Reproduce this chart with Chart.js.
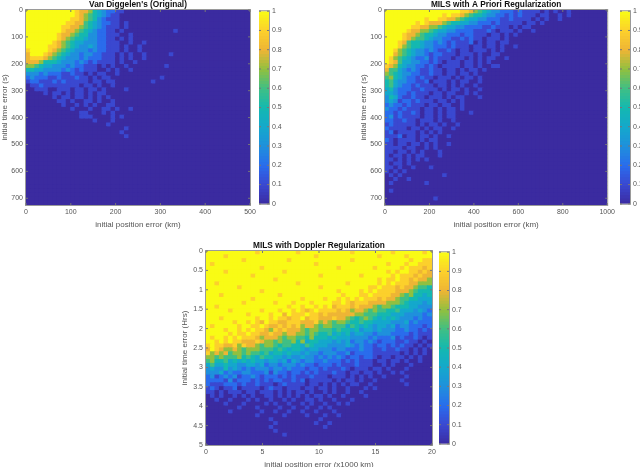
<!DOCTYPE html>
<html>
<head>
<meta charset="utf-8">
<script src="https://cdn.jsdelivr.net/npm/chart.js@4"></script>
<style>
    html, body { margin: 0; padding: 0; background: #fff; }
    body { width: 640px; height: 467px; position: relative; overflow: hidden; }
    canvas { position: absolute; }
</style>
</head>
<body>
<canvas id="heat1"></canvas><canvas id="bar1"></canvas>
<canvas id="heat2"></canvas><canvas id="bar2"></canvas>
<canvas id="heat3"></canvas><canvas id="bar3"></canvas>
<script>
// Cell values in tenths, one char per cell (a = 1.0), 50 columns by 50 rows.
// Rows are written from the top of the plot, missing cells at the end are 0.
const vanDiggelenRows = [
    "aaaaaaaaaaa98875432211", "aaaaaaaaaaa98765432110", "aaaaaaaaaa998765321110",
    "aaaaaaaaa99886543221101", "aaaaaaaa998876543211101", "aaaaaaaa98876543221101000000000001",
    "aaaaaaa98876553322111001", "aaaaaaa98765543322110101", "aaaaaa987654433322111001001",
    "aaaaa9987654334322111010010", "9aaaa987654333232211101001", "8aaa98765433233221110101001000001",
    "899987654333232221110101001", "8887555433323212111101001", "77654433323221110101001000000001",
    "5544333323212111001010010", "33323222112110101100100", "2322211211121101011000000000001",
    "12211121211111011011000000001", "01121111111101101001", "00111001110110110100001",
    "00001011010110101100", "00000010110110101010", "000000011010011010010", "00000000100101010011",
    "00000000001000100110100100", "00000000000011000101", "00000000000011100001010", "0000000000000001000100",
    "00000000000000000010", "0000000000000000000000100", "0000000000000000000001", "000000000000000000000010"
];
const aPrioriRows = [
    "aaaaaaaaaaaaaaaaa99876543322212111101010010", "aaaaaaaaaaaaa9a998765543322121211101100101",
    "aaaaaaaaa9aa9988765443322211211110101001", "aaaaaaa9a988876554433222121111101101",
    "aaaaaa9988776544332222112111010110", "aaaaa98877654433222211121011101001",
    "aaaa988765543322212211101101010", "aaaa98766543322112121101110100",
    "aaa9865543323212111201011011", "aaa976554332221211101101101001",
    "aa97654332321121011011101010", "aa8765433212211101110100110",
    "a976543223121110110101011001", "a986443322121011101101010",
    "98754332212101111011010011", "86643232112110110101101",
    "7654332211211011011010", "6754322121101110101101",
    "56433221120111010110010", "5643221211101101010010",
    "4532221121110101101001", "4432212111011011001010",
    "3542112110111010110001", "3431221211101101010",
    "232212111011011001", "3221211101101011010",
    "22121121011010110001", "2312111101101011",
    "2211211011101001", "121111101011010010",
    "2111101101011001", "1201111010101",
    "11120110110100100", "2101111010110",
    "110110110101001", "1111011001010",
    "1101101010001", "1011010110001",
    "1101010101", "10110100",
    "1101001000100", "1010100",
    "01010000000001", "0010010",
    "0100000001", "0", "01", "0", "000000000001"
];
const dopplerRows = [
    "aaaaaaaaaa a9aaaaaaaa 9aaaaaaaaa aa9aaaaaaa a9aaaaaa9a",
    "aaaa9aaaaa aaaaaaaaaa aaaa9aaaaa aaaaaaaa9a aaaa9aaaaa",
    "aaaaaaaa9a aaaaaaaa9a aaaaaaaaaa aa9aaaaaaa aaaaa9aa99",
    "a9aaaaaaaa aaaaaaaaaa aaaa9aaaaa aaaaaaaaaa 9aaa9aa999",
    "aaaaaaaaaa aa9aaaaaaa aaaaaaaaa9 aaaaaaa9aa aaa9a99989",
    "aaaa9aaaaa aaaaaaa9aa aaaaaaaaaa aaaaaaaaaa 9a9aa99898",
    "aaaaaaaaaa 9aaaaaaaaa aaaaa9aaaa aaaa9aaaaa a9a9998988",
    "aaaaaaaaaa aaaaa9aaaa aaaaaaaaaa aaaaaaaa9a 99a9989887",
    "aa9aaaaaaa aaaaaaaaaa 9aaaaaaaaa a9aaaaaa9a 9a99988777",
    "aaaaaaa9aa aaaaaaaaaa aaaaa9aaaa aaaaaa99a9 9989887665",
    "aaaaaaaaaa aa9aaaaaaa aaaaaaaaa9 aaaa9a9a99 9988876555",
    "aaa9aaaaaa aaaaaa9aaa aaaaaaaaaa 9aaa99a999 9887675545",
    "aaaaaaaaaa 9aaaaaaaaa a9aaaa9aa9 a9a9a99989 8876655444",
    "aaaaaaaa9a aaaaa9aaa9 aaa9aaaa99 a989998888 7776544434",
    "aa9aaaaaaa aaaaaaaa9a a9aa9a9a89 9989888767 7655544333",
    "aaaaa9aaaa aa9aaa9aa9 a989a99998 9878876766 5564443432",
    "aaaaaaaaa9 aaaa9aa8a9 99a9989888 8887766655 5444333323",
    "aaa9aaaaaa a9aa9a9989 9a89988898 8765676545 4543332322",
    "aaaaaa9aa9 a98a998899 9888978767 7655655444 4333423222",
    "a9aaaaa9aa 99a9889898 9788767766 6465454344 3423322212",
    "aaaa9aa9a9 a998798988 8767766656 5545344343 3322322121",
    "aaaaa9a99a 9988988788 7767655645 4534433233 3222212111",
    "a9aa9a9a99 9878887677 6657555454 4433332322 2312112101",
    "aa9a9a9988 8987767667 5745544434 3423323212 2211211010",
    "9a99889798 8767765665 5465444333 3432322122 1212110101",
    "8a98778767 7766656545 5434433323 3222322112 1121101010",
    "9787867767 6656455454 4343323332 2312222111 1110101010",
    "7767666756 5465544343 3433232323 2122122101 1011010100",
    "6755645454 5443443424 3233223222 1212111011 0110100100",
    "4644544334 4342332333 2322122212 1112111001 0100010000",
    "3433534323 2333233232 2212212111 2101110110 1000100000",
    "3334232233 2223132212 2121211121 1011011010 0101000000",
    "2312323122 3212221212 1112111011 1010101001 0000100000",
    "2222131222 1212122112 1201111101 0110100100 0001000000",
    "2111222121 1211101211 1101101010 1011001000 0000100000",
    "1210112011 1101211011 1011011010 0100010100 0000000000",
    "1101011101 1011101010 1101001010 0100100000 0000000000",
    "0101001010 1001101010 1010110100 1000010000 0000000000",
    "0010010001 0100100101 0011010010 0010000000 0000000000",
    "0000100010 0001010010 0101001001 0100000000 0000000000",
    "0000000100 0100001001 0010010100 0000000000 0000000000",
    "0000010000 0010010010 0100100010 0000000000 0000000000",
    "0000000000 0100000100 0010001001 0000000000 0000000000",
    "0000000000 0000100000 0000010000 0000000000 0000000000",
    "0000000000 0000010000 0000100100 0000000000 0000000000",
    "0000000000 0000100000 0000001000 0000000000 0000000000",
    "0000000000 0000010000 0000000000 0000000000 0000000000",
    "0000000000 0000000100 0000000000 0000000000 0000000000"
];

const xTicks1 = [0, 100, 200, 300, 400, 500];
const xTicks2 = [0, 200, 400, 600, 800, 1000];
const xTicks3 = [0, 5, 10, 15, 20];
const yTicksSec = [0, 100, 200, 300, 400, 500, 600, 700];
const yTicksHrs = [0, 0.5, 1, 1.5, 2, 2.5, 3, 3.5, 4, 4.5, 5];
const barTicks = [0, 0.1, 0.2, 0.3, 0.4, 0.5, 0.6, 0.7, 0.8, 0.9, 1];

const parula = ['#3b2ba0', '#3a48d0', '#2a6cec', '#1f90dc', '#14a8cc', '#14b8b0',
                '#3fbf85', '#90c040', '#eeb535', '#fcd02c', '#f9fb15'];

const FONT = '"Liberation Sans", Arial, sans-serif';
const TEXT_COLOR = '#555555';
const BOX_COLOR = '#9a9a9a';

// Colour for a value between 0 and 1
function colorFor(v) {
    const pos = Math.min(v, 1) * 10;
    const i = Math.min(Math.floor(pos), 9);
    const t = pos - i;
    const a = parseInt(parula[i].slice(1), 16);
    const b = parseInt(parula[i + 1].slice(1), 16);
    const mix = shift => Math.round(((a >> shift) & 255) * (1 - t) + ((b >> shift) & 255) * t);
    return `rgb(${mix(16)},${mix(8)},${mix(0)})`;
}

function buildCells(rows, xMax, yMax) {
    const cells = [];
    for (let r = 0; r < 50; r++) {
        const row = (rows[r] || '').replace(/ /g, '').padEnd(50, '0');
        for (let c = 0; c < 50; c++) {
            const v = row[c] === 'a' ? 1 : Number(row[c]) / 10;
            cells.push({ x: (c + 0.5) * xMax / 50, y: [r * yMax / 50, (r + 1) * yMax / 50], v: v });
        }
    }
    return cells;
}

// Box round the plot and the small ticks pointing inwards
const boxPlugin = {
    id: 'box',
    afterDraw(chart) {
        const ctx = chart.ctx;
        const a = chart.chartArea;
        ctx.save();
        ctx.strokeStyle = BOX_COLOR;
        ctx.lineWidth = 1;
        ctx.strokeRect(a.left - 0.5, a.top - 0.5, a.width + 1, a.height + 1);
        ctx.strokeStyle = '#777777';
        ctx.beginPath();
        Object.values(chart.scales).forEach(scale => {
            if (!scale.options.display) return;
            scale.ticks.forEach((t, i) => {
                const p = scale.getPixelForTick(i);
                if (scale.isHorizontal()) {
                    ctx.moveTo(p, a.bottom); ctx.lineTo(p, a.bottom - 2);
                    ctx.moveTo(p, a.top); ctx.lineTo(p, a.top + 2);
                } else {
                    ctx.moveTo(a.left, p); ctx.lineTo(a.left + 2, p);
                    ctx.moveTo(a.right, p); ctx.lineTo(a.right - 2, p);
                }
            });
        });
        ctx.stroke();
        ctx.restore();
    }
};

function place(canvas, left, top, width, height) {
    canvas.width = width;
    canvas.height = height;
    canvas.style.left = left + 'px';
    canvas.style.top = top + 'px';
    canvas.style.width = width + 'px';
    canvas.style.height = height + 'px';
}

function axisText(size) {
    return { family: FONT, size: size };
}

function renderHeat(id, box, rows, xMax, yMax, xTicks, yTicks, xLabel, yLabel, title) {
    const canvas = document.getElementById(id);
    place(canvas, box.left, box.top, 26 + box.plotWidth + 10, box.topPad + 10 + box.plotHeight + 25);
    new Chart(canvas, {
        type: 'bar',
        data: {
            datasets: [{
                data: buildCells(rows, xMax, yMax),
                backgroundColor: c => colorFor(c.raw.v),
                barPercentage: 1,
                categoryPercentage: 1,
                inflateAmount: 0.6,
                grouped: false
            }]
        },
        options: {
            responsive: false,
            animation: false,
            layout: { padding: { left: 0, right: 10, top: 0, bottom: 0 } },
            plugins: {
                legend: { display: false },
                tooltip: { enabled: false },
                title: {
                    display: true,
                    text: title,
                    color: '#111111',
                    fullSize: false,
                    font: { family: FONT, size: 8.3, weight: 'bold', lineHeight: '10px' },
                    padding: { top: box.topPad, bottom: 0 }
                }
            },
            scales: {
                x: {
                    type: 'linear',
                    offset: false,
                    min: 0,
                    max: xMax,
                    grid: { display: false, offset: false, drawTicks: false },
                    border: { display: false },
                    afterBuildTicks: s => { s.ticks = xTicks.map(v => ({ value: v })); },
                    afterFit: s => { s.height = 25; },
                    ticks: { color: TEXT_COLOR, font: axisText(7), padding: 3, maxRotation: 0, autoSkip: false, callback: v => String(v) },
                    title: { display: true, text: xLabel, color: TEXT_COLOR, font: axisText(8), padding: { top: 3, bottom: 0 } }
                },
                y: {
                    type: 'linear',
                    reverse: true,
                    min: 0,
                    max: yMax,
                    grid: { display: false, drawTicks: false },
                    border: { display: false },
                    afterBuildTicks: s => { s.ticks = yTicks.map(v => ({ value: v })); },
                    afterFit: s => { s.width = 26; },
                    ticks: { color: TEXT_COLOR, font: axisText(7), padding: 3, autoSkip: false, callback: v => String(v) },
                    title: { display: true, text: yLabel, color: TEXT_COLOR, font: axisText(8), padding: { top: 0, bottom: 0 } }
                }
            }
        },
        plugins: [boxPlugin]
    });
}

function renderColorbar(id, left, top, height) {
    const canvas = document.getElementById(id);
    place(canvas, left, top - 6, 30, height + 12);
    const levels = Array.from({ length: 64 }, (_, i) => i / 64);
    new Chart(canvas, {
        type: 'bar',
        data: {
            datasets: [{
                data: levels.map(l => ({ x: 0.5, y: [l, l + 1 / 64], v: l + 1 / 128 })),
                backgroundColor: c => colorFor(c.raw.v),
                barPercentage: 1,
                categoryPercentage: 1,
                inflateAmount: 0.6,
                grouped: false
            }]
        },
        options: {
            responsive: false,
            animation: false,
            layout: { padding: { top: 6, bottom: 6, left: 0, right: 0 } },
            plugins: { legend: { display: false }, tooltip: { enabled: false } },
            scales: {
                x: { type: 'linear', offset: false, min: 0, max: 1, display: false, grid: { offset: false } },
                y: {
                    type: 'linear',
                    position: 'right',
                    min: 0,
                    max: 1,
                    grid: { display: false, drawTicks: false },
                    border: { display: false },
                    afterBuildTicks: s => { s.ticks = barTicks.map(v => ({ value: v })); },
                    afterFit: s => { s.width = 20; },
                    ticks: { color: TEXT_COLOR, font: axisText(7), padding: 3, autoSkip: false, callback: v => String(v) }
                }
            }
        },
        plugins: [boxPlugin]
    });
}

renderHeat('heat1', { left: 0, top: 0, topPad: 0, plotWidth: 224, plotHeight: 195 }, vanDiggelenRows, 500, 725,
    xTicks1, yTicksSec, 'initial position error (km)', 'initial time error (s)', "Van Diggelen's (Original)");
renderColorbar('bar1', 259, 10, 195);

renderHeat('heat2', { left: 359, top: 0, topPad: 0, plotWidth: 223, plotHeight: 195 }, aPrioriRows, 1000, 725,
    xTicks2, yTicksSec, 'initial position error (km)', 'initial time error (s)', 'MILS with A Priori Regularization');
renderColorbar('bar2', 620, 10, 195);

renderHeat('heat3', { left: 180, top: 235, topPad: 6, plotWidth: 226, plotHeight: 194 }, dopplerRows, 20, 5,
    xTicks3, yTicksHrs, 'initial position error (x1000 km)', 'initial time error (Hrs)', 'MILS with Doppler Regularization');
renderColorbar('bar3', 439, 251, 194);
</script>
</body>
</html>
